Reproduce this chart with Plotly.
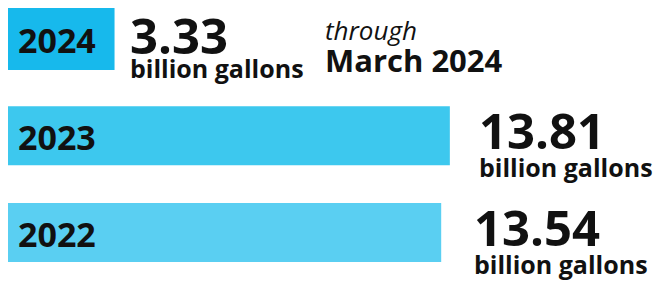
import plotly.graph_objects as go

years = ["2022", "2023", "2024"]
values = [13.54, 13.81, 3.33]
unit_label = "billion gallons"
note_top = "through"
note_bottom = "March 2024"
colors = ["#5acff2", "#3dc8ee", "#17b9ec"]

fig = go.Figure()
fig.add_trace(go.Bar(
    y=years, x=values, orientation="h",
    marker=dict(color=colors, line=dict(width=0)),
    width=[0.61, 0.61, 0.64],
    hoverinfo="skip",
))

FONT = "Open Sans"
INK = "#111111"
ann = []
# year labels inside bars
for i, (y, v) in enumerate(zip(years, values)):
    ann.append(dict(x=0, y=i, xref="x", yref="y", text=f"<b>{y}</b>",
                    showarrow=False, xanchor="left", yanchor="middle",
                    xshift=8, yshift=-1,
                    font=dict(family=FONT, size=34, color=INK)))
# value labels: (xshift, yshift, base size for line spacing)
layout_rows = {"2022": (31, -5, 21.5), "2023": (27, -5, 21.5), "2024": (13, -5, 18.5)}
for i, (y, v) in enumerate(zip(years, values)):
    xs, ys, base = layout_rows[y]
    txt = (f"<span style='font-size:49px'><b>{v:.2f}</b></span><br>"
           f"<span style='font-size:25px'><b>{unit_label}</b></span>")
    ann.append(dict(x=v, y=i, xref="x", yref="y", text=txt, align="left",
                    showarrow=False, xanchor="left", yanchor="middle",
                    xshift=xs, yshift=ys,
                    font=dict(family=FONT, size=base, color=INK)))
# note
note_txt = (f"<span style='font-size:26px'><i>{note_top}</i></span><br>"
            f"<span style='font-size:31px'><b>{note_bottom}</b></span>")
ann.append(dict(x=values[2], y=2, xref="x", yref="y", text=note_txt, align="left",
                showarrow=False, xanchor="left", yanchor="middle",
                xshift=208, yshift=-8,
                font=dict(family=FONT, size=24.6, color=INK)))

fig.update_layout(
    width=661, height=286,
    margin=dict(l=8, r=0, t=0, b=0),
    paper_bgcolor="white", plot_bgcolor="white",
    showlegend=False,
    annotations=ann,
    xaxis=dict(range=[0, 20.41], visible=False, fixedrange=True),
    yaxis=dict(type="category", range=[-0.553, 2.403], visible=False, fixedrange=True,
               categoryorder="array", categoryarray=years),
    bargap=0.4,
)
fig.write_html("out.html", config={"staticPlot": True},
               post_script="document.body.style.margin='0';")
